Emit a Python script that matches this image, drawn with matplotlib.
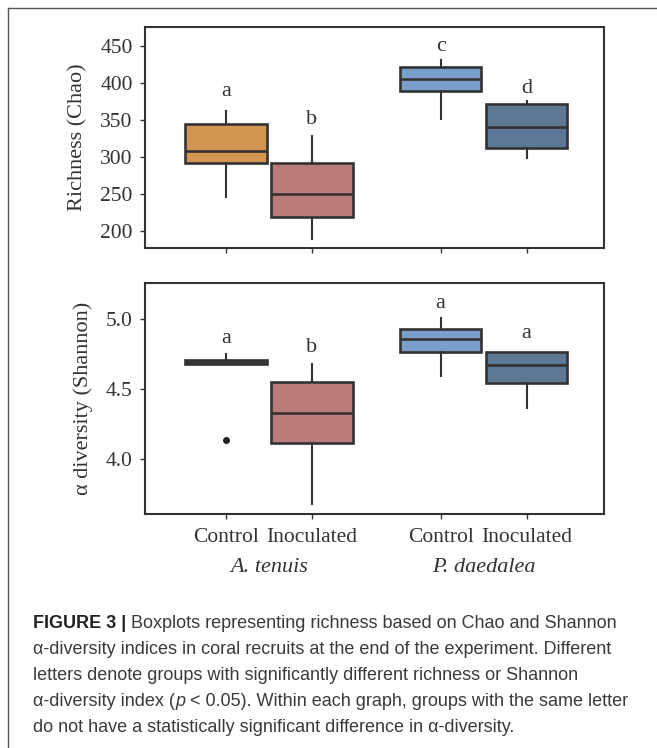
import matplotlib
matplotlib.use("Agg")
import matplotlib.pyplot as plt
from matplotlib.lines import Line2D
import numpy as np

# data
groups = ["Control", "Inoculated", "Control", "Inoculated"]
species = ["A. tenuis", "P. daedalea"]
positions = [0, 1, 2.5, 3.5]
colors = ["#D39552", "#BA7B7A", "#7A9FCC", "#5D7797"]

chao_q1 = [291, 219, 389, 312]
chao_med = [308, 250, 406, 340]
chao_q3 = [345, 292, 422, 371]
chao_lo = [245, 188, 351, 299]
chao_hi = [362, 328, 431, 376]
chao_letters = ["a", "b", "c", "d"]
chao_letter_y = [389, 351, 450, 393]

sh_q1 = [4.679, 4.112, 4.764, 4.538]
sh_med = [4.690, 4.326, 4.852, 4.671]
sh_q3 = [4.702, 4.548, 4.930, 4.764]
sh_lo = [4.679, 3.676, 4.593, 4.366]
sh_hi = [4.748, 4.676, 5.005, 4.766]
sh_fliers = [[4.136], [], [], []]
sh_letters = ["a", "b", "a", "a"]
sh_letter_y = [4.857, 4.798, 5.112, 4.893]

edge = "#333333"
serif = "Liberation Serif"
sans = "Liberation Sans"


def make_stats(q1, med, q3, lo, hi, fliers=None):
    out = []
    for i in range(len(q1)):
        out.append({"q1": q1[i], "med": med[i], "q3": q3[i],
                    "whislo": lo[i], "whishi": hi[i],
                    "fliers": fliers[i] if fliers else []})
    return out


def draw_panel(ax, stats, letters, letter_y):
    bp = ax.bxp(stats, positions=positions, widths=0.95, patch_artist=True,
                showcaps=False,
                boxprops=dict(edgecolor=edge, linewidth=1.9),
                medianprops=dict(color=edge, linewidth=1.9),
                whiskerprops=dict(color=edge, linewidth=1.5),
                flierprops=dict(marker="o", markersize=4, markerfacecolor="#222222",
                                markeredgecolor="#222222"))
    for patch, c in zip(bp["boxes"], colors):
        patch.set_facecolor(c)
    for x, t, y in zip(positions, letters, letter_y):
        ax.text(x, y, t, ha="center", va="center", fontsize=16, family=serif, color=edge)
    ax.set_xlim(-0.95, 4.4)
    for s in ax.spines.values():
        s.set_color(edge)
        s.set_linewidth(1.5)
    ax.tick_params(direction="out", length=3.5, width=1, colors=edge,
                   labelsize=15.5, pad=5)


fig = plt.figure(figsize=(6.57, 7.48), dpi=100)
ax1 = fig.add_axes([0.22, 0.668, 0.699, 0.296])
ax2 = fig.add_axes([0.22, 0.313, 0.699, 0.309])

draw_panel(ax1, make_stats(chao_q1, chao_med, chao_q3, chao_lo, chao_hi), chao_letters, chao_letter_y)
ax1.set_ylim(176, 476)
ax1.set_yticks([200, 250, 300, 350, 400, 450])
ax1.set_yticklabels([str(v) for v in [200, 250, 300, 350, 400, 450]], family=serif)
ax1.set_xticks(positions)
ax1.set_xticklabels([])
ax1.set_ylabel("Richness (Chao)", fontsize=16, family=serif, color=edge, labelpad=9)

draw_panel(ax2, make_stats(sh_q1, sh_med, sh_q3, sh_lo, sh_hi, sh_fliers), sh_letters, sh_letter_y)
ax2.set_ylim(3.607, 5.257)
ax2.set_yticks([4.0, 4.5, 5.0])
ax2.set_yticklabels(["4.0", "4.5", "5.0"], family=serif)
ax2.set_xticks(positions)
ax2.set_xticklabels(groups, family=serif)
ax2.tick_params(axis="x", pad=7)
ax2.set_ylabel("\u03b1 diversity (Shannon)", fontsize=16, family=serif, color=edge, labelpad=9)

trans = ax2.get_xaxis_transform()
for i, name in enumerate(species):
    xc = (positions[2 * i] + positions[2 * i + 1]) / 2
    ax2.text(xc, -0.232, name, transform=trans, ha="center", va="center",
             fontsize=16, family=serif, style="italic", color=edge)

# outer frame (open at right/bottom as in the page crop)
fig.add_artist(Line2D([8 / 657, 1], [1 - 8 / 748, 1 - 8 / 748], transform=fig.transFigure,
                      color="#555555", lw=1))
fig.add_artist(Line2D([8 / 657, 8 / 657], [0, 1 - 8 / 748], transform=fig.transFigure,
                      color="#555555", lw=1))

# caption, drawn piece by piece so that bold / italic parts sit inline
cap_lines = [
    [("FIGURE 3 |", "bold", "normal"), (" Boxplots representing richness based on Chao and Shannon", "normal", "normal")],
    [("\u03b1-diversity indices in coral recruits at the end of the experiment. Different", "normal", "normal")],
    [("letters denote groups with significantly different richness or Shannon", "normal", "normal")],
    [("\u03b1-diversity index (", "normal", "normal"), ("p", "normal", "italic"),
     (" < 0.05). Within each graph, groups with the same letter", "normal", "normal")],
    [("do not have a statistically significant difference in \u03b1-diversity.", "normal", "normal")],
]
cap_y = [624, 650, 676, 702, 728]
renderer = fig.canvas.get_renderer()
for segs, y in zip(cap_lines, cap_y):
    x = 33
    for txt, weight, style in segs:
        t = fig.text(x / 657, 1 - y / 748, txt, fontsize=13, family=sans,
                     weight=weight, style=style, va="center", ha="left",
                     color="#222222" if weight == "bold" else "#3a3a3a")
        bb = t.get_window_extent(renderer=renderer)
        x = bb.x1

fig.savefig("out.png", dpi=100)
